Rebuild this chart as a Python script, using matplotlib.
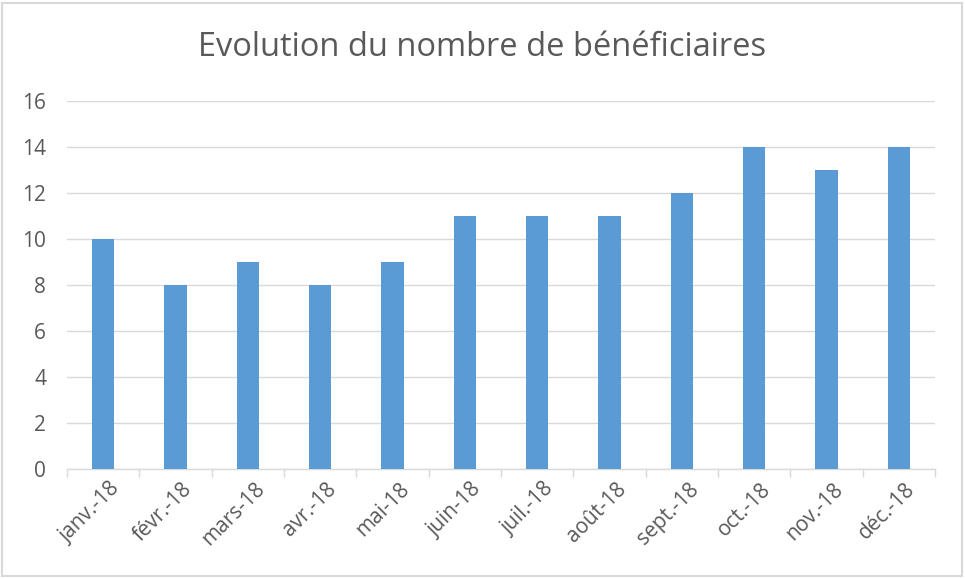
import matplotlib.pyplot as plt
import numpy as np
from matplotlib.patches import Rectangle
from matplotlib.transforms import ScaledTranslation

plt.rcParams["font.family"] = ["Open Sans", "DejaVu Sans"]

months = ["janv.-18", "févr.-18", "mars-18", "avr.-18", "mai-18", "juin-18",
          "juil.-18", "août-18", "sept.-18", "oct.-18", "nov.-18", "déc.-18"]
beneficiaires = [10, 8, 9, 8, 9, 11, 11, 11, 12, 14, 13, 14]
yticks = [0, 2, 4, 6, 8, 10, 12, 14, 16]

grey = "#595959"

fig = plt.figure(figsize=(9.65, 5.79), dpi=100)
ax = fig.add_axes([67 / 965, 1 - 469 / 579, 868 / 965, 368 / 579])

x = np.arange(len(months))
ax.bar(x, beneficiaires, width=0.31, color="#5B9BD5", zorder=3)

ax.set_xlim(-0.5, len(months) - 0.5)
ax.set_ylim(0, 16)
ax.set_yticks(yticks)
ax.grid(axis="y", color="#d9d9d9", linewidth=1, zorder=0)

for s in ["top", "right", "left"]:
    ax.spines[s].set_visible(False)
ax.spines["bottom"].set_color("#d9d9d9")
ax.spines["bottom"].set_linewidth(1)

ax.tick_params(axis="y", length=0, pad=15, labelsize=15, labelcolor=grey)
ax.set_xticks(x)
ax.set_xticklabels(months, rotation=45, ha="right", rotation_mode="anchor",
                   fontsize=15, color=grey)
ax.tick_params(axis="x", which="major", length=0, pad=7)
# nudge labels a little to the right
offset = ScaledTranslation(6 / 100, 0, fig.dpi_scale_trans)
for lbl in ax.get_xticklabels():
    lbl.set_transform(lbl.get_transform() + offset)
ax.set_xticks(np.arange(-0.5, len(months)), minor=True)
ax.tick_params(axis="x", which="minor", length=6, color="#d9d9d9", width=1)

fig.text(0.5, 1 - 47 / 579, "Evolution du nombre de bénéficiaires",
         ha="center", va="center", fontsize=23.5, color=grey)

fig.patches.append(Rectangle((2 / 965, 3 / 579), 960 / 965, 573 / 579,
                             transform=fig.transFigure, fill=False,
                             edgecolor="#d9d9d9", linewidth=1.5))

fig.savefig("out.png", dpi=100, facecolor="white")
